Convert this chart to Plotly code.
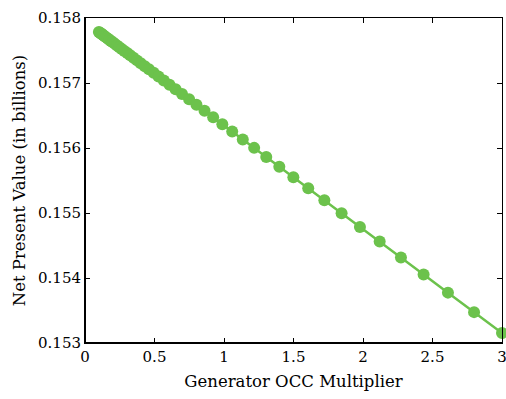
import plotly.graph_objects as go

# Generator OCC multiplier values (log-spaced sweep from 0.1 to 3)
occ_multiplier = [
    0.100, 0.107, 0.115, 0.123, 0.132, 0.141, 0.152, 0.163, 0.174, 0.187,
    0.200, 0.215, 0.230, 0.247, 0.264, 0.283, 0.304, 0.325, 0.349, 0.374,
    0.401, 0.430, 0.460, 0.494, 0.529, 0.567, 0.608, 0.652, 0.698, 0.749,
    0.802, 0.860, 0.922, 0.988, 1.059, 1.135, 1.217, 1.304, 1.398, 1.499,
    1.606, 1.722, 1.846, 1.978, 2.120, 2.273, 2.436, 2.611, 2.799, 3.000,
]

# Net present value in billions
npv_billions = [
    0.157785, 0.157774, 0.157761, 0.157749, 0.157734, 0.157720, 0.157702, 0.157685, 0.157667, 0.157646,
    0.157626, 0.157602, 0.157578, 0.157551, 0.157523, 0.157493, 0.157460, 0.157426, 0.157388, 0.157348,
    0.157305, 0.157258, 0.157210, 0.157156, 0.157100, 0.157040, 0.156974, 0.156904, 0.156830, 0.156749,
    0.156664, 0.156572, 0.156473, 0.156367, 0.156254, 0.156132, 0.156002, 0.155863, 0.155713, 0.155551,
    0.155380, 0.155195, 0.154997, 0.154786, 0.154560, 0.154315, 0.154055, 0.153775, 0.153475, 0.153154,
]

x_ticks = [0, 0.5, 1, 1.5, 2, 2.5, 3]
x_tick_labels = ["0", "0.5", "1", "1.5", "2", "2.5", "3"]
y_ticks = [0.153, 0.154, 0.155, 0.156, 0.157, 0.158]
y_tick_labels = ["0.153", "0.154", "0.155", "0.156", "0.157", "0.158"]

GREEN = "#6cc24c"
FONT = "DejaVu Serif"

fig = go.Figure()
fig.add_trace(go.Scatter(
    x=occ_multiplier,
    y=npv_billions,
    mode="lines+markers",
    line=dict(color=GREEN, width=2.5),
    marker=dict(color=GREEN, size=12, line=dict(width=0)),
    showlegend=False,
    cliponaxis=False,
))

axis_common = dict(
    showgrid=False,
    zeroline=False,
    showline=True,
    linecolor="black",
    linewidth=1,
    mirror="ticks",
    ticks="inside",
    ticklen=5,
    tickwidth=1,
    tickcolor="black",
    automargin=False,
    ticklabeloverflow="allow",
    tickfont=dict(family=FONT, size=15, color="black"),
    title_font=dict(family=FONT, size=16.5, color="black"),
)

fig.update_xaxes(
    range=[0, 3],
    tickvals=x_ticks,
    ticktext=x_tick_labels,
    title_text="Generator OCC Multiplier",
    title_standoff=10,
    **axis_common,
)
fig.update_yaxes(
    range=[0.153, 0.158],
    tickvals=y_ticks,
    ticktext=y_tick_labels,
    title_text="Net Present Value (in billions)",
    title_standoff=8,
    **axis_common,
)

# heavier left and bottom spines
fig.add_shape(type="line", xref="paper", yref="paper", x0=0, x1=0, y0=0, y1=1,
              line=dict(color="black", width=2))
fig.add_shape(type="line", xref="paper", yref="paper", x0=0, x1=1, y0=0, y1=0,
              line=dict(color="black", width=2))

fig.update_layout(
    width=506,
    height=399,
    margin=dict(l=85, r=4, t=18, b=56),
    plot_bgcolor="white",
    paper_bgcolor="white",
    font=dict(family=FONT, color="black"),
)

fig.write_html("out.html")
